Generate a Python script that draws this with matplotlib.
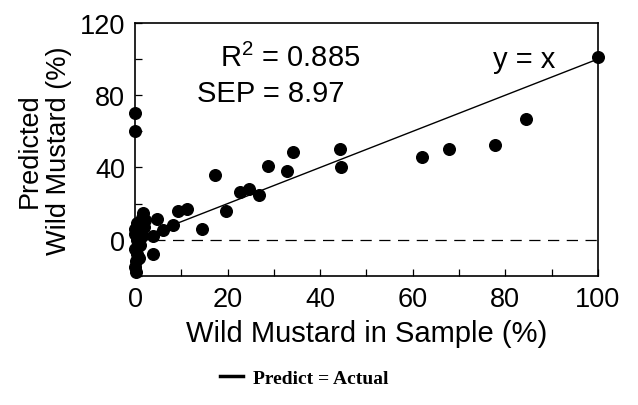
import matplotlib.pyplot as plt
from matplotlib.lines import Line2D

# valores
actual = [0, 0, 17.3, 28.7, 34.1, 32.8, 44.3, 44.5, 22.7, 24.6, 26.8, 19.7, 14.5,
          9.3, 11.2, 8.2, 6.0, 4.7, 1.7, 2.2, 3.9, 3.9, 62.0, 67.8, 77.8, 84.4, 100,
          0, 0.3, 0.5, 0, 1.0, 0.5, 1.5, 0, 1.0, 2.0, 0.5, 1.5, 0.2, 0.8, 0, 1.2]
predicho = [70, 60, 36, 41, 48.5, 38, 50, 40, 26.5, 28, 25, 16, 6,
            16, 17, 8, 5.5, 11.6, 15, 11, -7.7, 2, 45.7, 50, 52.5, 66.7, 101,
            -15, -12, -8, -5, -3, 0, 2, 3, 5, 7, 9, 12, -18, -10, 6, 4]

fuente = 'Liberation Sans'
plt.rcParams['mathtext.fontset'] = 'custom'
plt.rcParams['mathtext.rm'] = fuente

fig = plt.figure(figsize=(6.38, 4.06), dpi=100)
ax = fig.add_axes([0.2116, 0.318, 0.7254, 0.623])

ax.scatter(actual, predicho, s=70, color='black', zorder=3, clip_on=False)
ax.plot([0, 100], [0, 100], color='black', lw=1.0)
ax.plot([0, 100], [0, 0], color='black', lw=0.9, dashes=(9, 6))

ax.set_xlim(0, 100)
ax.set_ylim(-20, 120)
ax.set_xticks(range(0, 101, 10))
ax.set_xticklabels([str(v) if v % 20 == 0 else '' for v in range(0, 101, 10)],
                   fontfamily=fuente, fontsize=19.5)
ax.set_yticks(range(-20, 121, 20))
ax.set_yticklabels([str(v) if v % 40 == 0 else '' for v in range(-20, 121, 20)],
                   fontfamily=fuente, fontsize=19.5)
ax.tick_params(direction='in', length=5, width=0.9, pad=7)
for s in ax.spines.values():
    s.set_linewidth(1.2)

ax.set_xlabel('Wild Mustard in Sample (%)', fontfamily=fuente, fontsize=21, labelpad=5)
ax.set_ylabel('Predicted\nWild Mustard (%)', fontfamily=fuente, fontsize=19.5,
              labelpad=6, linespacing=1.15)

ax.text(33.5, 101, r'R$^2$ = 0.885', fontfamily=fuente, fontsize=21, ha='center', va='center')
ax.text(29.3, 81, 'SEP = 8.97', fontfamily=fuente, fontsize=21, ha='center', va='center')
ax.text(84, 100, 'y = x', fontfamily=fuente, fontsize=21, ha='center', va='center')

handle = Line2D([], [], color='black', lw=2.5)
fig.legend([handle], ['Predict = Actual'], loc='center', bbox_to_anchor=(0.477, 0.067),
           frameon=False, handlelength=1.2, handletextpad=0.5,
           prop={'family': 'Liberation Serif', 'weight': 'bold', 'size': 14})

plt.savefig('out.png', dpi=100)
